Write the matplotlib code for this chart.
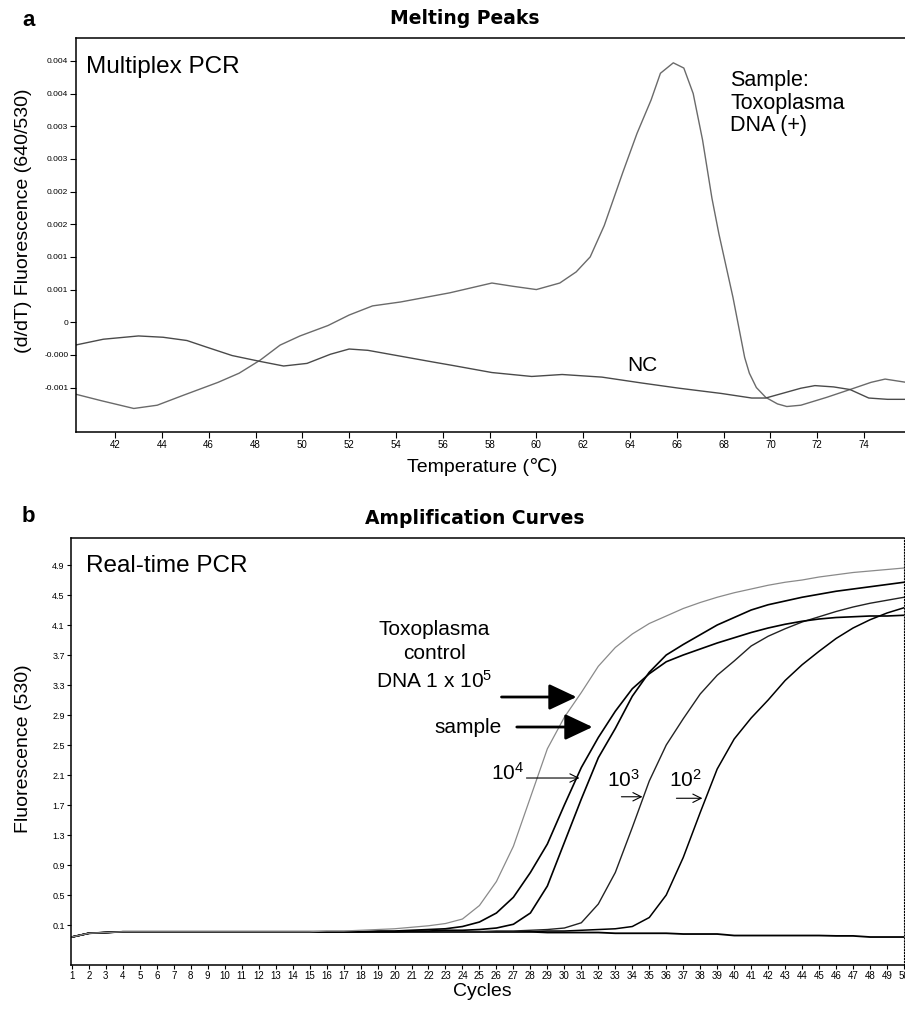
import matplotlib
matplotlib.use("Agg")
import matplotlib.pyplot as plt

plt.rcParams['font.family'] = ['Liberation Sans', 'DejaVu Sans']
plt.rcParams['mathtext.default'] = 'regular'

# ---- panel a : melting peaks (values in 1e-3) ----
sample_temp = [40.3, 41.4, 42.8, 43.8, 44.9, 46.4, 47.3, 48.2, 49.05, 49.9, 51.1, 52.0, 53.0, 54.2, 56.3,
               58.1, 59.0, 60.0, 61.0, 61.7, 62.3, 62.9, 63.7, 64.3, 64.9, 65.3, 65.85, 66.3, 66.7, 67.1,
               67.5, 67.8, 68.4, 68.9, 69.1, 69.4, 69.8, 70.3, 70.7, 71.3, 72.4, 73.4, 74.3, 74.9, 75.8]
sample_val = [-1.10, -1.20, -1.32, -1.27, -1.12, -0.92, -0.78, -0.58, -0.35, -0.21, -0.05, 0.11, 0.25, 0.31, 0.45,
              0.60, 0.55, 0.50, 0.60, 0.77, 1.00, 1.48, 2.30, 2.89, 3.40, 3.81, 3.97, 3.89, 3.50, 2.79,
              1.90, 1.35, 0.38, -0.54, -0.78, -1.00, -1.15, -1.25, -1.29, -1.27, -1.15, -1.03, -0.92, -0.87, -0.92]

nc_temp = [40.3, 41.5, 43.0, 44.05, 45.07, 45.9, 47.0, 48.2, 49.2, 50.2, 51.2, 52.0, 52.8, 54.2, 55.6,
           56.4, 58.1, 59.8, 61.1, 62.8, 64.5, 66.1, 67.9, 69.2, 69.8, 70.5, 71.3, 71.9, 72.7, 73.4,
           74.2, 75.0, 75.8]
nc_val = [-0.35, -0.26, -0.21, -0.23, -0.28, -0.38, -0.51, -0.60, -0.67, -0.63, -0.49, -0.41, -0.43, -0.52, -0.61,
          -0.66, -0.77, -0.83, -0.80, -0.84, -0.93, -1.01, -1.09, -1.16, -1.16, -1.09, -1.01, -0.97, -0.99, -1.03,
          -1.16, -1.18, -1.18]

a_xticks = [42, 44, 46, 48, 50, 52, 54, 56, 58, 60, 62, 64, 66, 68, 70, 72, 74]
a_yticks = [-0.001, -0.0005, 0, 0.0005, 0.001, 0.0015, 0.002, 0.0025, 0.003, 0.0035, 0.004]
a_ylabels = ['-0.001', '-0.000', '0', '0.001', '0.001', '0.002', '0.002', '0.003', '0.003', '0.004', '0.004']

# ---- panel b : amplification curves ----
cycles = list(range(1, 51))
ctrl_1e5 = [-0.06, -0.01, 0.00, 0.01, 0.01, 0.01, 0.01, 0.01, 0.01, 0.01,
            0.01, 0.01, 0.01, 0.01, 0.01, 0.02, 0.02, 0.03, 0.04, 0.05,
            0.07, 0.09, 0.12, 0.18, 0.36, 0.68, 1.15, 1.80, 2.45, 2.87,
            3.20, 3.55, 3.80, 3.98, 4.12, 4.22, 4.32, 4.40, 4.47, 4.53,
            4.58, 4.63, 4.67, 4.70, 4.74, 4.77, 4.80, 4.82, 4.84, 4.86]
sample_b = [-0.06, -0.01, 0.00, 0.01, 0.01, 0.01, 0.01, 0.01, 0.01, 0.01,
            0.01, 0.01, 0.01, 0.01, 0.01, 0.01, 0.01, 0.01, 0.02, 0.02,
            0.03, 0.04, 0.05, 0.08, 0.14, 0.26, 0.47, 0.80, 1.18, 1.70,
            2.20, 2.60, 2.95, 3.25, 3.45, 3.61, 3.70, 3.78, 3.86, 3.93,
            4.00, 4.06, 4.11, 4.15, 4.18, 4.20, 4.21, 4.22, 4.22, 4.23]
dna_1e4 = [-0.06, -0.01, 0.00, 0.01, 0.01, 0.01, 0.01, 0.01, 0.01, 0.01,
           0.01, 0.01, 0.01, 0.01, 0.01, 0.01, 0.01, 0.01, 0.01, 0.01,
           0.02, 0.02, 0.03, 0.03, 0.04, 0.06, 0.11, 0.26, 0.62, 1.20,
           1.78, 2.33, 2.72, 3.15, 3.47, 3.70, 3.84, 3.97, 4.10, 4.20,
           4.30, 4.37, 4.42, 4.47, 4.51, 4.55, 4.58, 4.61, 4.64, 4.67]
dna_1e3 = [-0.06, -0.01, 0.00, 0.01, 0.01, 0.01, 0.01, 0.01, 0.01, 0.01,
           0.01, 0.01, 0.01, 0.01, 0.01, 0.01, 0.01, 0.01, 0.01, 0.01,
           0.01, 0.01, 0.01, 0.01, 0.01, 0.02, 0.02, 0.03, 0.04, 0.06,
           0.13, 0.38, 0.80, 1.40, 2.02, 2.50, 2.85, 3.18, 3.43, 3.62,
           3.82, 3.95, 4.05, 4.14, 4.21, 4.28, 4.34, 4.39, 4.43, 4.47]
dna_1e2 = [-0.06, -0.01, 0.00, 0.01, 0.01, 0.01, 0.01, 0.01, 0.01, 0.01,
           0.01, 0.01, 0.01, 0.01, 0.01, 0.01, 0.01, 0.01, 0.01, 0.01,
           0.01, 0.01, 0.01, 0.01, 0.01, 0.01, 0.01, 0.01, 0.02, 0.02,
           0.03, 0.04, 0.05, 0.08, 0.20, 0.50, 1.00, 1.60, 2.18, 2.58,
           2.86, 3.10, 3.36, 3.57, 3.75, 3.92, 4.06, 4.17, 4.26, 4.33]
nc_b = [-0.06, -0.01, 0.00, 0.01, 0.01, 0.01, 0.01, 0.01, 0.01, 0.01,
        0.01, 0.01, 0.01, 0.01, 0.01, 0.01, 0.01, 0.01, 0.01, 0.01,
        0.01, 0.01, 0.01, 0.01, 0.01, 0.01, 0.01, 0.01, 0.00, 0.00,
        0.00, 0.00, -0.01, -0.01, -0.01, -0.01, -0.02, -0.02, -0.02, -0.04,
        -0.04, -0.04, -0.04, -0.04, -0.04, -0.045, -0.045, -0.06, -0.06, -0.06]

b_yticks = [0.1, 0.5, 0.9, 1.3, 1.7, 2.1, 2.5, 2.9, 3.3, 3.7, 4.1, 4.5, 4.9]

W, H = 905, 1009
fig = plt.figure(figsize=(W / 100, H / 100), dpi=100)

# ---------------- panel a ----------------
ax = fig.add_axes([76 / W, 1 - 432 / H, (905 - 76) / W, (432 - 38) / H])
ax.plot(sample_temp, [v * 1e-3 for v in sample_val], color='#6a6a6a', lw=1.0)
ax.plot(nc_temp, [v * 1e-3 for v in nc_val], color='#4a4a4a', lw=1.0)
ax.set_xlim(40.33, 75.75)
ax.set_ylim(-0.00168, 0.00435)
ax.set_xticks(a_xticks)
ax.set_xticklabels([str(t) for t in a_xticks], fontsize=7)
ax.set_yticks(a_yticks)
ax.set_yticklabels(a_ylabels, fontsize=6)
ax.tick_params(direction='out', length=4, width=0.8, pad=1.5)
ax.spines['right'].set_visible(False)
for s in ['left', 'bottom', 'top']:
    ax.spines[s].set_linewidth(1.1)
ax.text(40.76, 0.0039, 'Multiplex PCR', fontsize=17.5, va='center', ha='left')
ax.text(68.28, 0.00386, 'Sample:\nToxoplasma\nDNA (+)', fontsize=15.5, va='top', ha='left', linespacing=1.1)
ax.text(64.52, -0.00066, 'NC', fontsize=15, va='center', ha='center')
fig.text(24 / W, 1 - 221 / H, '(d/dT) Fluorescence (640/530)', rotation=90, fontsize=14,
         ha='center', va='center')
fig.text(482 / W, 1 - 467 / H, 'Temperature (\u2103)', fontsize=14, ha='center', va='center')
fig.text(29 / W, 1 - 20 / H, 'a', fontsize=16, fontweight='bold', ha='center', va='center')
fig.text(465 / W, 1 - 18 / H, 'Melting Peaks', fontsize=13.5, fontweight='bold',
         family='DejaVu Sans', ha='center', va='center')

# ---------------- panel b ----------------
bx = fig.add_axes([71 / W, 1 - 965 / H, (904 - 71) / W, (965 - 538) / H])
bx.plot(cycles, nc_b, color='black', lw=1.3)
bx.plot(cycles, dna_1e2, color='black', lw=1.1)
bx.plot(cycles, dna_1e3, color='#222222', lw=1.0)
bx.plot(cycles, dna_1e4, color='black', lw=1.2)
bx.plot(cycles, sample_b, color='black', lw=1.2)
bx.plot(cycles, ctrl_1e5, color='#8a8a8a', lw=0.9)
bx.set_xlim(0.95, 49.95)
bx.set_ylim(-0.433, 5.26)
bx.set_xticks(cycles)
bx.set_xticklabels([str(c) for c in cycles], fontsize=7)
bx.set_yticks(b_yticks)
bx.set_yticklabels([str(t) for t in b_yticks], fontsize=6.5)
bx.tick_params(direction='out', length=3, width=0.8, pad=1.5)
bx.tick_params(axis='x', pad=1)
for s in ['left', 'bottom', 'top']:
    bx.spines[s].set_linewidth(1.1)
bx.spines['right'].set_linestyle(':')
bx.spines['right'].set_linewidth(0.8)

bx.text(1.83, 4.89, 'Real-time PCR', fontsize=17.5, va='center', ha='left')
bx.text(22.36, 3.69, 'Toxoplasma\ncontrol\nDNA 1 x 10$^5$', fontsize=15, va='center', ha='center',
        linespacing=1.35)
bx.text(26.3, 2.74, 'sample', fontsize=15, va='center', ha='right')
bx.text(26.66, 2.13, '10$^4$', fontsize=15, va='center', ha='center')
bx.text(33.5, 2.03, '10$^3$', fontsize=15, va='center', ha='center')
bx.text(37.1, 2.03, '10$^2$', fontsize=15, va='center', ha='center')

bold = dict(arrowstyle='-|>,head_length=0.85,head_width=0.4', color='black', lw=2.0,
            mutation_scale=20, shrinkA=0, shrinkB=0)
thin = dict(arrowstyle='->,head_length=0.4,head_width=0.2', color='black', lw=0.8,
            mutation_scale=15, shrinkA=0, shrinkB=0)
bx.annotate('', xy=(30.72, 3.14), xytext=(26.3, 3.14), arrowprops=bold)
bx.annotate('', xy=(31.66, 2.74), xytext=(27.2, 2.74), arrowprops=bold)
bx.annotate('', xy=(30.89, 2.06), xytext=(27.77, 2.06), arrowprops=thin)
bx.annotate('', xy=(34.6, 1.81), xytext=(33.36, 1.81), arrowprops=thin)
bx.annotate('', xy=(38.13, 1.79), xytext=(36.6, 1.79), arrowprops=thin)

fig.text(24 / W, 1 - 749 / H, 'Fluorescence (530)', rotation=90, fontsize=14, ha='center', va='center')
fig.text(482 / W, 1 - 992 / H, 'Cycles', fontsize=14, ha='center', va='center')
fig.text(28 / W, 1 - 517 / H, 'b', fontsize=16, fontweight='bold', ha='center', va='center')
fig.text(475 / W, 1 - 518 / H, 'Amplification Curves', fontsize=13.5, fontweight='bold',
         family='DejaVu Sans', ha='center', va='center')

fig.savefig('out.png', dpi=100)
